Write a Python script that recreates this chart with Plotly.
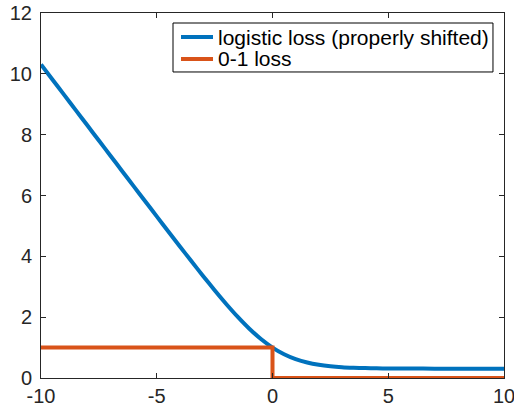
import plotly.graph_objects as go

# logistic loss (properly shifted)
x_log = [-10, -9.5, -9, -8.5, -8, -7.5, -7, -6.5, -6, -5.5, -5, -4.5, -4, -3.5, -3,
         -2.5, -2, -1.5, -1, -0.5, 0, 0.5, 1, 1.5, 2, 2.5, 3, 3.5, 4, 4.5, 5,
         6, 7, 8, 9, 10]
y_log = [10.307, 9.807, 9.307, 8.807, 8.307, 7.808, 7.308, 6.808, 6.309, 5.811, 5.314,
         4.818, 4.325, 3.837, 3.355, 2.886, 2.434, 2.008, 1.620, 1.281, 1.000, 0.781,
         0.620, 0.508, 0.434, 0.386, 0.355, 0.337, 0.325, 0.318, 0.314,
         0.309, 0.308, 0.307, 0.307, 0.307]

# 0-1 loss
x_01 = [-10, 0, 0, 10]
y_01 = [1, 1, 0, 0]

x_ticks = [-10, -5, 0, 5, 10]
x_ticktext = ["-10", "-5", "0", "5", "10"]
y_ticks = [0, 2, 4, 6, 8, 10, 12]
y_ticktext = ["0", "2", "4", "6", "8", "10", "12"]

names = ["logistic loss (properly shifted)", "0-1 loss"]
colors = ["#0072BD", "#D95319"]

FONT = "Liberation Sans, Arial, Helvetica, sans-serif"
AX = "#262626"

fig = go.Figure()
fig.add_trace(go.Scatter(x=x_log, y=y_log, mode="lines", name=names[0], showlegend=False,
                         line=dict(color=colors[0], width=4, shape="spline", smoothing=0.6)))
fig.add_trace(go.Scatter(x=x_01, y=y_01, mode="lines", name=names[1], showlegend=False,
                         line=dict(color=colors[1], width=4)))

axis_common = dict(showgrid=False, zeroline=False, showline=True, linecolor=AX, linewidth=1,
                   mirror="ticks", ticks="inside", ticklen=5, tickcolor=AX, tickwidth=1,
                   automargin=False, ticklabeloverflow="allow",
                   tickfont=dict(family=FONT, size=20, color=AX))

# legend drawn in paper coordinates (MATLAB-style compact box)
shapes = [dict(type="rect", xref="paper", yref="paper", x0=0.2851, x1=0.9762, y0=0.8384, y1=0.9726,
               line=dict(color="#000000", width=1), fillcolor="white", layer="above")]
annotations = []
row_y = [0.9342, 0.8740]
for name, col, ry in zip(names, colors, row_y):
    shapes.append(dict(type="line", xref="paper", yref="paper", x0=0.3024, x1=0.3715, y0=ry, y1=ry,
                       line=dict(color=col, width=4), layer="above"))
    annotations.append(dict(xref="paper", yref="paper", x=0.378, y=ry, text=name, showarrow=False,
                            xanchor="left", yanchor="middle",
                            font=dict(family=FONT, size=21, color="#000000")))

fig.update_layout(
    width=514, height=409,
    margin=dict(l=41, r=10, t=13, b=31, autoexpand=False),
    paper_bgcolor="white", plot_bgcolor="white",
    showlegend=False,
    shapes=shapes, annotations=annotations,
    xaxis=dict(range=[-10, 10], tickvals=x_ticks, ticktext=x_ticktext, ticklabelstandoff=0, **axis_common),
    yaxis=dict(range=[0, 12], tickvals=y_ticks, ticktext=y_ticktext, ticklabelstandoff=4, **axis_common),
)

fig.write_html("out.html", config={"displayModeBar": False},
               post_script="document.body.style.margin='0';")
